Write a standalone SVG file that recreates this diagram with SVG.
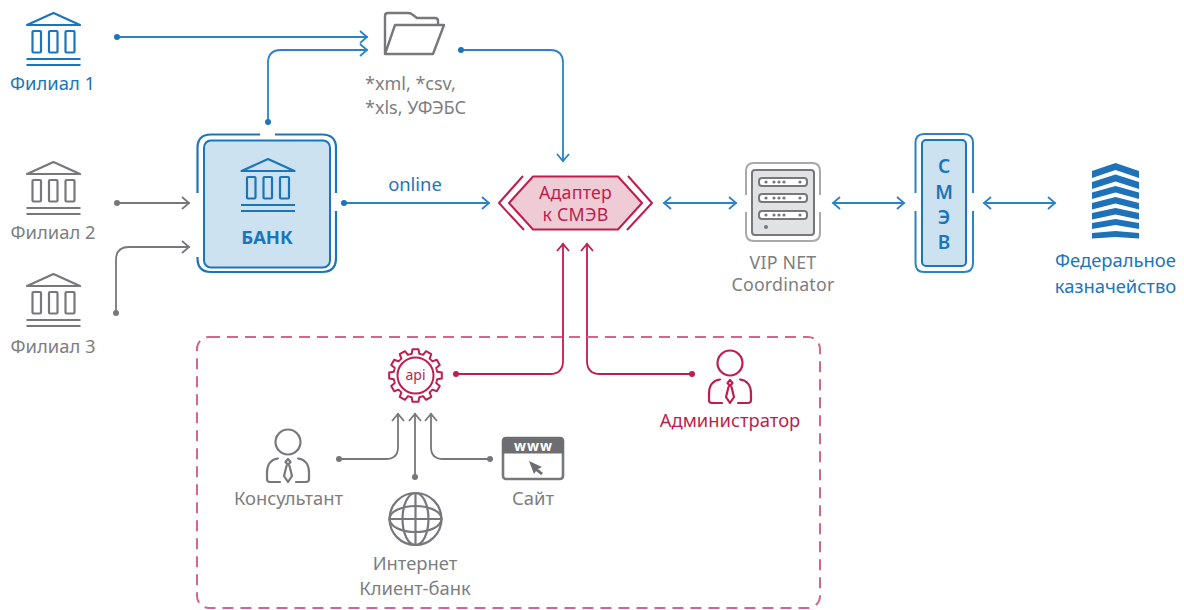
<svg xmlns="http://www.w3.org/2000/svg" width="1184" height="610" viewBox="0 0 1184 610">
<style>
text{font-family:"Noto Sans","Open Sans","Liberation Sans",sans-serif;font-size:18.4px;text-anchor:middle}
text.t{font-size:17.8px;letter-spacing:.2px}
.b{fill:#1b75bb}.g{fill:#7d7e81}.r{fill:#be1e4d}
.ln{fill:none;stroke-width:1.8;stroke-linecap:round;stroke-linejoin:round}
.lb{stroke:#2b83c3}.lg{stroke:#77787b}.lr{stroke:#be1e4d}
.ic{fill:none;stroke:currentColor;stroke-width:2.2}
</style>
<defs>
<marker id="ab" markerWidth="14" markerHeight="14" refX="10" refY="7" orient="auto-start-reverse" markerUnits="userSpaceOnUse"><path d="M3 1L10 7L3 13" fill="none" stroke="#2b83c3" stroke-width="1.8"/></marker>
<marker id="ag" markerWidth="14" markerHeight="14" refX="10" refY="7" orient="auto-start-reverse" markerUnits="userSpaceOnUse"><path d="M3 1L10 7L3 13" fill="none" stroke="#77787b" stroke-width="1.8"/></marker>
<marker id="ar" markerWidth="14" markerHeight="14" refX="10" refY="7" orient="auto-start-reverse" markerUnits="userSpaceOnUse"><path d="M3 1L10 7L3 13" fill="none" stroke="#be1e4d" stroke-width="1.8"/></marker>
<marker id="db" markerWidth="8" markerHeight="8" refX="4" refY="4" markerUnits="userSpaceOnUse"><circle cx="4" cy="4" r="3" fill="#1b75bb"/></marker>
<marker id="dg" markerWidth="8" markerHeight="8" refX="4" refY="4" markerUnits="userSpaceOnUse"><circle cx="4" cy="4" r="3" fill="#77787b"/></marker>
<marker id="dr" markerWidth="8" markerHeight="8" refX="4" refY="4" markerUnits="userSpaceOnUse"><circle cx="4" cy="4" r="3" fill="#be1e4d"/></marker>
<g id="bank" class="ic">
<path d="M27 25L53.500 13L80 25Z" stroke-linejoin="round"/>
<rect x="32.500" y="31" width="8.500" height="21.500" rx="1"/><rect x="49" y="31" width="8.500" height="21.500" rx="1"/><rect x="65.500" y="31" width="9" height="21.500" rx="1"/>
<path d="M26.500 59H80.500M26.500 65H80.500"/>
</g>
<g id="person" class="ic" stroke-linejoin="round" stroke-linecap="round">
<circle cx="22" cy="13" r="12.500"/>
<path d="M12 29.500Q1 31 1 44V50Q1 53 4 53H14M32 29.500Q43 31 43 44V50Q43 53 40 53H30"/>
<path d="M22 30L19.500 33L22 36L24.500 33Z"/>
<path d="M20.500 37L18 47L22 53L26 47L23.500 37"/>
</g>
<path id="tooth" fill="none" stroke="#be1e4d" stroke-width="2" stroke-linejoin="round" d="M-5.700-21.250L-3.800-21.700L-3-26.300H3L3.800-21.700L5.700-21.250"/>
<g id="srvdots" fill="#77787b"><circle cx="766" cy="0" r="1.600"/><circle cx="774" cy="0" r="1.600"/><circle cx="779" cy="0" r="1.600"/><circle cx="784" cy="0" r="1.600"/><circle cx="800" cy="0" r="1.600"/></g>
</defs>
<rect width="1184" height="610" fill="#fff"/>
<g id="connectors">
<path class="ln lb" marker-start="url(#db)" marker-end="url(#ab)" d="M117 37H367"/>
<path class="ln lb" marker-start="url(#db)" marker-end="url(#ab)" d="M268 122V63Q268 50 281 50H367"/>
<path class="ln lb" marker-start="url(#db)" marker-end="url(#ab)" d="M461 50H550Q563 50 563 63V161"/>
<path class="ln lg" marker-start="url(#dg)" marker-end="url(#ag)" d="M117 203H189"/>
<path class="ln lg" marker-start="url(#dg)" marker-end="url(#ag)" d="M116 313V260Q116 247 129 247H189"/>
<path class="ln lb" marker-start="url(#db)" marker-end="url(#ab)" d="M344 203H489"/>
<path class="ln lb" marker-start="url(#ab)" marker-end="url(#ab)" d="M664 203H736"/>
<path class="ln lb" marker-start="url(#ab)" marker-end="url(#ab)" d="M833 203H904"/>
<path class="ln lb" marker-start="url(#ab)" marker-end="url(#ab)" d="M984 203H1055"/>
<path class="ln lr" marker-start="url(#dr)" marker-end="url(#ar)" d="M456 374H550Q563 374 563 361V244"/>
<path class="ln lr" marker-start="url(#dr)" marker-end="url(#ar)" d="M692 374H600Q587 374 587 361V244"/>
<path class="ln lg" marker-start="url(#dg)" marker-end="url(#ag)" d="M339 459H386Q398 459 398 447V414"/>
<path class="ln lg" marker-start="url(#dg)" marker-end="url(#ag)" d="M415 477V414"/>
<path class="ln lg" marker-start="url(#dg)" marker-end="url(#ag)" d="M490 459H443Q431 459 431 447V414"/>
</g>
<g id="group-frame"><rect x="197" y="337" width="623" height="271" rx="12" fill="none" stroke="#d4668a" stroke-width="2" stroke-dasharray="11 7"/></g>
<g id="filial1" color="#1b75bb"><use href="#bank"/><text class="b" x="52.500" y="90">Филиал 1</text></g>
<g id="filial2" color="#77787b"><use href="#bank" y="149"/><text class="g" x="53" y="239">Филиал 2</text></g>
<g id="filial3" color="#77787b"><use href="#bank" y="261"/><text class="g" x="53" y="353">Филиал 3</text></g>
<g id="folder">
<g fill="none" stroke="#77787b" stroke-width="2.400" stroke-linejoin="round">
<path d="M385 54V16Q385 13 388 13H408Q411 13 413 15L417 18H435Q438 18 438 21V25"/>
<path d="M385 54L395 25H444L433 54Z"/>
</g>
<text x="365" y="90" fill="#7d7e81" style="text-anchor:start;font-size:18px">*xml, *csv,</text>
<text x="365" y="114" fill="#7d7e81" style="text-anchor:start;font-size:18px">*xls, УФЭБС</text>
</g>
<g id="bank-main" color="#1b75bb">
<rect x="204" y="140.500" width="126" height="127" rx="7" fill="#cde2f0" stroke="#1b75bb" stroke-width="2"/>
<path class="ic" d="M260 134.500H211Q197.500 134.500 197.500 148V193M197.500 257V258Q197.500 272 211 272H322Q336 272 336 258V211M336 193V148Q336 134.500 322 134.500H275"/>
<use href="#bank" x="214.500" y="146"/>
<text x="267" y="244" class="b" font-weight="700">БАНК</text>
</g>
<text id="online-label" x="415" y="191" class="b">online</text>
<g id="adapter">
<path d="M533 176.500H618L642 203L618 229.500H533L509 203Z" fill="#efcbd6" stroke="#be1e4d" stroke-width="2" stroke-linejoin="round"/>
<path d="M523 176L499 203L524 230M628 176L652 203L627 230" fill="none" stroke="#be1e4d" stroke-width="2" stroke-linejoin="round"/>
<text x="575.500" y="199" class="r t">Адаптер</text>
<text x="575.500" y="221" class="r t">к СМЭВ</text>
</g>
<g id="vipnet">
<path d="M746 195V171Q746 163 754 163H812Q820 163 820 171V195M746 212V233Q746 241 754 241H812Q820 241 820 233V212" fill="none" stroke="#a7a9ac" stroke-width="2"/>
<rect x="752" y="170" width="62" height="65" rx="3" fill="#e1e2e3" stroke="#77787b" stroke-width="2"/>
<g fill="#fff" stroke="#77787b" stroke-width="2"><rect x="759" y="178" width="48" height="8" rx="3"/><rect x="759" y="194" width="48" height="8" rx="3"/><rect x="759" y="211" width="48" height="8" rx="3"/></g>
<use href="#srvdots" y="182"/><use href="#srvdots" y="198"/><use href="#srvdots" y="215"/>
<circle cx="766" cy="227" r="2" fill="#77787b"/>
<text x="783" y="269" class="g t">VIP NET</text><text x="783" y="291" class="g t">Coordinator</text>
</g>
<g id="smev">
<rect x="922" y="140" width="44" height="126" rx="4" fill="#cde2f0" stroke="#1b75bb" stroke-width="2"/>
<path d="M915.500 193V143Q915.500 134 924 134H964Q973 134 973 143V193M915.500 211V263Q915.500 272 924 272H964Q973 272 973 263V211" fill="none" stroke="#2b83c3" stroke-width="2"/>
<g class="b" font-weight="600"><text x="944" y="173" style="font-size:19px">С</text><text x="944" y="198.500" style="font-size:19px">М</text><text x="944" y="223.500" style="font-size:19px">Э</text><text x="944" y="248.500" style="font-size:19px">В</text></g>
</g>
<g id="treasury">
<path fill="#1f72b8" d="M1092 171L1115.500 163L1139 171V178L1115.500 170L1092 178ZM1092 182L1115.500 174.500L1139 182V189L1115.500 181.500L1092 189ZM1092 192.500L1115.500 186L1139 192.500V199L1115.500 192.500L1092 199ZM1092 203L1115.500 197L1139 203V209.500L1115.500 203.500L1092 209.500ZM1092 213L1115.500 208L1139 213V219.500L1115.500 214.500L1092 219.500ZM1092 223L1115.500 219L1139 223V229L1115.500 225L1092 229ZM1092 233L1115.500 231L1139 233V238.500L1115.500 237L1092 238.500Z"/>
<text x="1115.500" y="267" class="b">Федеральное</text><text x="1115.500" y="293" class="b">казначейство</text>
</g>
<g id="api">
<circle cx="415.500" cy="375.500" r="18" fill="none" stroke="#be1e4d" stroke-width="2"/>
<g transform="translate(415.500 375.500)">
<use href="#tooth"/><use href="#tooth" transform="rotate(30)"/><use href="#tooth" transform="rotate(60)"/><use href="#tooth" transform="rotate(90)"/><use href="#tooth" transform="rotate(120)"/><use href="#tooth" transform="rotate(150)"/><use href="#tooth" transform="rotate(180)"/><use href="#tooth" transform="rotate(210)"/><use href="#tooth" transform="rotate(240)"/><use href="#tooth" transform="rotate(270)"/><use href="#tooth" transform="rotate(300)"/><use href="#tooth" transform="rotate(330)"/>
</g>
<text x="415.500" y="380" class="r" style="font-size:14px">api</text>
</g>
<g id="admin" color="#be1e4d"><use href="#person" x="708" y="350"/><text x="730" y="427" class="r">Администратор</text></g>
<g id="consultant" color="#77787b"><use href="#person" x="266" y="429"/><text x="288.500" y="505" class="g">Консультант</text></g>
<g id="site">
<rect x="503" y="438" width="60" height="41" rx="3" fill="#fff" stroke="#77787b" stroke-width="2.600"/>
<path d="M503 441Q503 438 506 438H560Q563 438 563 441V452.500H503Z" fill="#6d6e71" stroke="#6d6e71" stroke-width="2"/>
<text x="533.500" y="451" fill="#fff" font-weight="700" style="font-size:14px;letter-spacing:1px">www</text>
<path d="M529 461L542 467L538 469L543 473L541 475L536 471L534 474Z" fill="#6d6e71"/>
<text x="533" y="505" class="g">Сайт</text>
</g>
<g id="internet">
<g fill="none" stroke="#77787b" stroke-width="2.200">
<circle cx="415.500" cy="519" r="26"/><ellipse cx="415.500" cy="519" rx="13" ry="26"/><path d="M415.500 493V545M389.500 519H441.500"/><ellipse cx="415.500" cy="519" rx="26" ry="13"/>
</g>
<text x="415" y="570" class="g">Интернет</text><text x="415" y="595" class="g">Клиент-банк</text>
</g>
</svg>
